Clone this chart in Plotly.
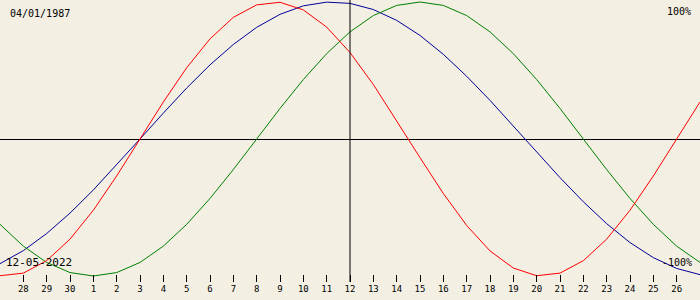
import plotly.graph_objects as go

# day index 0 = 27 Apr 2022 ... 30 = 27 May 2022
days = list(range(31))
tick_days = list(range(1, 30))
tick_labels = ["28", "29", "30"] + [str(i) for i in range(1, 27)]

physical = [-0.998, -0.979, -0.888, -0.731, -0.520, -0.270, 0.0, 0.270, 0.520, 0.731,
            0.888, 0.979, 0.998, 0.942, 0.817, 0.631, 0.398, 0.136, -0.136, -0.398,
            -0.631, -0.817, -0.942, -0.998, -0.979, -0.888, -0.731, -0.520, -0.270, 0.0,
            0.270]
emotional = [-0.623, -0.782, -0.901, -0.975, -1.0, -0.975, -0.901, -0.782, -0.623, -0.434,
             -0.223, 0.0, 0.223, 0.434, 0.623, 0.782, 0.901, 0.975, 1.0, 0.975,
             0.901, 0.782, 0.623, 0.434, 0.223, 0.0, -0.223, -0.434, -0.623, -0.782,
             -0.901]
intellectual = [-0.910, -0.815, -0.690, -0.541, -0.372, -0.189, 0.0, 0.189, 0.372, 0.541,
                0.690, 0.815, 0.910, 0.972, 0.999, 0.990, 0.945, 0.866, 0.756, 0.618,
                0.458, 0.282, 0.095, -0.095, -0.282, -0.458, -0.618, -0.756, -0.866, -0.945,
                -0.990]

birth_label = "04/01/1987"
date_label = "12-05-2022"
center_day = 15

bg = "#F3EFE3"
fnt = "DejaVu Sans Mono"

fig = go.Figure()
fig.add_trace(go.Scatter(x=days, y=intellectual, mode="lines",
                         line=dict(color="#000099", width=1), hoverinfo="skip"))
fig.add_trace(go.Scatter(x=days, y=emotional, mode="lines",
                         line=dict(color="#008000", width=1), hoverinfo="skip"))
fig.add_trace(go.Scatter(x=days, y=physical, mode="lines",
                         line=dict(color="#FF0000", width=1), hoverinfo="skip"))

fig.add_shape(type="line", xref="x", yref="paper", x0=center_day, x1=center_day,
              y0=0, y1=1, line=dict(color="black", width=1))

fig.add_annotation(text=birth_label, xref="paper", yref="paper", x=8/700, y=1-13/282,
                   xanchor="left", yanchor="middle", showarrow=False,
                   font=dict(family=fnt, size=10, color="black"))
fig.add_annotation(text="100%", xref="paper", yref="paper", x=693/700, y=1-12/282,
                   xanchor="right", yanchor="middle", showarrow=False,
                   font=dict(family=fnt, size=10, color="black"))
fig.add_annotation(text=date_label, xref="paper", yref="paper", x=4/700, y=1-262/282,
                   xanchor="left", yanchor="middle", showarrow=False,
                   font=dict(family=fnt, size=11, color="black"))
fig.add_annotation(text="-100%", xref="paper", yref="paper", x=694/700, y=1-262/282,
                   xanchor="right", yanchor="middle", showarrow=False,
                   font=dict(family=fnt, size=10, color="black"))

fig.update_layout(
    width=700, height=300,
    margin=dict(l=0, r=0, t=0, b=18),
    paper_bgcolor=bg, plot_bgcolor=bg,
    showlegend=False,
    xaxis=dict(range=[0, 30], tickmode="array", tickvals=tick_days, ticktext=tick_labels,
               ticks="inside", ticklen=7, tickwidth=1, tickcolor="black",
               showgrid=False, zeroline=False, showline=False,
               tickfont=dict(family=fnt, size=9, color="black"), fixedrange=True),
    yaxis=dict(range=[-1.0438, 1.0146], showticklabels=False, showgrid=False,
               zeroline=True, zerolinecolor="black", zerolinewidth=1,
               showline=False, ticks="", fixedrange=True),
)

fig.write_html("out.html")
